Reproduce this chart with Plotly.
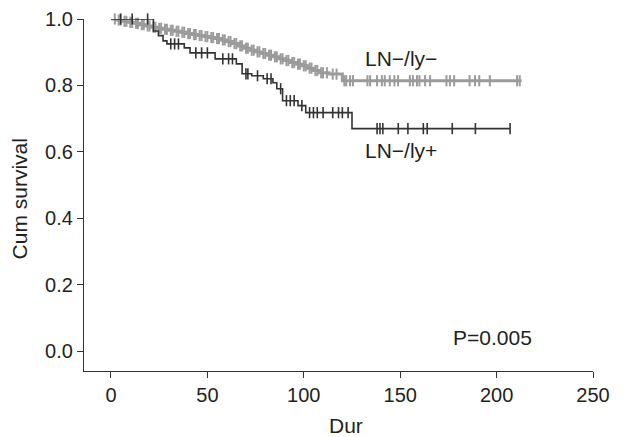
import plotly.graph_objects as go
import numpy as np

# LN-/ly- (gray) step curve: event times and survival after each step
gray_t = [0, 3, 6, 9, 12, 15, 18, 21, 24, 27, 30, 33, 36, 39, 42, 45, 48, 51, 54, 57,
          60, 63, 66, 69, 72, 75, 78, 81, 84, 87, 90, 93, 96, 99, 102, 105, 108, 113, 120]
gray_s = [1.0, 0.997, 0.993, 0.990, 0.987, 0.983, 0.979, 0.975, 0.972, 0.969, 0.966,
          0.963, 0.960, 0.956, 0.953, 0.950, 0.947, 0.944, 0.941, 0.937, 0.932, 0.926,
          0.919, 0.912, 0.906, 0.901, 0.896, 0.891, 0.886, 0.880, 0.875, 0.869, 0.864,
          0.859, 0.852, 0.845, 0.838, 0.834, 0.814]
gray_end = 213
gray_cens = [2, 4, 5, 7, 8, 10, 11, 13, 14, 16, 17, 19, 20, 22, 23, 25, 26, 28, 29, 31,
             32, 34, 35, 37, 38, 40, 41, 43, 44, 46, 47, 49, 50, 52, 53, 55, 56, 58, 59,
             61, 62, 64, 65, 67, 68, 70, 71, 73, 74, 76, 77, 79, 80, 82, 83, 85, 86, 88,
             89, 91, 92, 94, 95, 97, 98, 100, 101, 103, 104, 106, 107, 109, 110, 112,
             115, 117, 121, 122, 124, 125.5, 133, 134.4, 138, 140.5, 142, 144.6, 147,
             148.9, 155, 156.6, 158.7, 160, 162.9, 165.5, 174, 175.8, 178, 186, 188.8,
             191, 196.5, 210.6, 212]

# LN-/ly+ (black) step curve
black_t = [0, 22, 24.6, 27, 29, 38, 41, 54, 65, 68, 73, 79, 84, 86, 89, 97, 101, 125]
black_s = [1.0, 0.964, 0.95, 0.934, 0.925, 0.913, 0.898, 0.88, 0.865, 0.835, 0.829,
           0.82, 0.808, 0.79, 0.754, 0.739, 0.718, 0.67]
black_end = 207
black_cens = [5, 11, 19, 31, 33, 35, 44, 47, 50, 58, 61, 63, 70, 71, 76, 81, 83, 88, 91,
              93, 95, 99, 103, 105, 107, 110, 115, 118, 120, 123, 138, 139.5, 141, 149,
              154, 162, 164, 177, 189, 207]

x_ticks = [0, 50, 100, 150, 200, 250]
y_ticks = [0.0, 0.2, 0.4, 0.6, 0.8, 1.0]


def surv_at(ts, ss, t):
    idx = np.searchsorted(ts, t, side="right") - 1
    return ss[max(idx, 0)]


fig = go.Figure()

for ts, ss, end, cens, col, lw, mw in [
    (gray_t, gray_s, gray_end, gray_cens, "#9b9b9b", 3, 2),
    (black_t, black_s, black_end, black_cens, "#333333", 1.6, 1.6),
]:
    xs = list(ts) + [end]
    ys = list(ss) + [ss[-1]]
    fig.add_trace(go.Scatter(x=xs, y=ys, mode="lines", line=dict(color=col, width=lw, shape="hv"),
                             showlegend=False, hoverinfo="skip", cliponaxis=False))
    cy = [surv_at(ts, ss, c) for c in cens]
    fig.add_trace(go.Scatter(x=cens, y=cy, mode="markers",
                             marker=dict(symbol="line-ns", size=8, line=dict(color=col, width=mw)),
                             showlegend=False, hoverinfo="skip", cliponaxis=False))

FAM = "Liberation Sans, Arial, sans-serif"
tick_font = dict(family=FAM, size=20, color="#231f20")
font = dict(family=FAM, size=21, color="#231f20")

fig.add_annotation(x=130.5, y=0.8825, text="LN\u2212/ly\u2212", showarrow=False, xanchor="left",
                   yanchor="middle", font=font)
fig.add_annotation(x=130.5, y=0.605, text="LN\u2212/ly+", showarrow=False, xanchor="left",
                   yanchor="middle", font=font)
fig.add_annotation(x=176.5, y=0.042, text="P=0.005", showarrow=False, xanchor="left",
                   yanchor="middle", font=font)
# axis titles
fig.add_annotation(xref="paper", yref="paper", x=0.515, y=-0.156, text="Dur", showarrow=False,
                   xanchor="center", yanchor="middle", font=font)
fig.add_annotation(xref="paper", yref="paper", x=-0.126, y=0.49, text="Cum survival",
                   showarrow=False, textangle=-90, xanchor="center", yanchor="middle", font=font)

fig.update_layout(
    width=626, height=437,
    margin=dict(l=84, r=33, t=19, b=66, autoexpand=False),
    paper_bgcolor="white", plot_bgcolor="white",
    font=font,
    xaxis=dict(range=[-14, 250], tickvals=x_ticks, ticks="outside", ticklen=6,
               tickcolor="#333", showline=True, linecolor="#333", linewidth=1.3,
               showgrid=False, zeroline=False, tickfont=tick_font, automargin=False),
    yaxis=dict(range=[-0.06, 1.0], tickvals=y_ticks, tickformat=".1f", ticks="outside",
               ticklen=6, tickcolor="#333", showline=True, linecolor="#333", linewidth=1.3,
               showgrid=False, zeroline=False, tickfont=tick_font, automargin=False),
)

fig.write_html("out.html", config={"displayModeBar": False},
               post_script="document.body.style.margin='0';document.body.style.overflow='hidden';")
